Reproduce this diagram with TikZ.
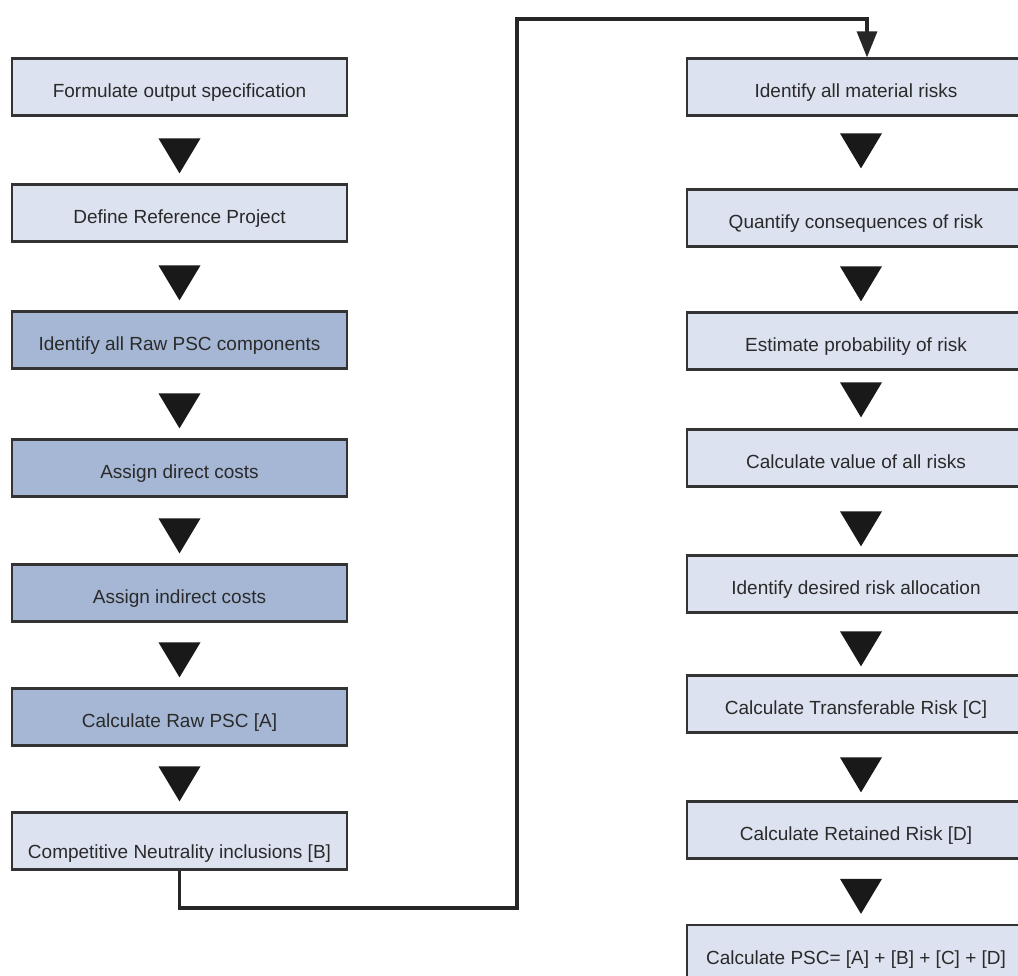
\documentclass[tikz,border=0pt]{standalone}
\usepackage{fontspec}
\setmainfont{Liberation Sans}
\usetikzlibrary{arrows.meta}
\definecolor{pale}{HTML}{DCE2F0}
\definecolor{deep}{HTML}{A5B7D4}
\definecolor{edge}{HTML}{333333}
\definecolor{ink}{HTML}{2A2A2A}

\begin{document}
\begin{tikzpicture}[x=1pt,y=1pt,>={Triangle[width=20pt,length=26pt]},
  stage/.style={draw=edge,line width=2.2pt,minimum width=335pt,minimum height=57pt,inner sep=0pt,
    text height=24pt,text depth=2.4pt,text=ink,font=\fontsize{19}{22}\selectfont},
  lite/.style={stage,fill=pale},
  dark/.style={stage,fill=deep},
  wide/.style={minimum width=338pt},
  drop/.style={fill=black!90},
  link/.style={draw=black!85,line width=3.2pt}]
\useasboundingbox (0,0) rectangle (1018,976);
\clip (0,0) rectangle (1018,976);
\fill[white] (0,0) rectangle (1018,976);
% left column
\node[lite] (spec) at (179.5,889) {Formulate output specification};
\node[lite] (refproj) at (179.5,763) {Define Reference Project};
\node[dark] (rawcomp) at (179.5,636) {Identify all Raw PSC components};
\node[dark] (direct) at (179.5,508) {Assign direct costs};
\node[dark] (indirect) at (179.5,383) {Assign indirect costs};
\node[dark] (rawpsc) at (179.5,259) {Calculate Raw PSC [A]};
\node[lite,text height=38pt] (neutral) at (179.5,135) {Competitive Neutrality inclusions [B]};
% right column
\node[lite,wide] (risks) at (856,889) {Identify all material risks};
\node[lite,wide] (conseq) at (856,758) {Quantify consequences of risk};
\node[lite,wide] (prob) at (856,635) {Estimate probability of risk};
\node[lite,wide] (value) at (856,518) {Calculate value of all risks};
\node[lite,wide] (alloc) at (856,392) {Identify desired risk allocation};
\node[lite,wide] (transfer) at (856,272) {Calculate Transferable Risk [C]};
\node[lite,wide] (retained) at (856,146) {Calculate Retained Risk [D]};
\node[lite,wide] (total) at (856,22.5) {Calculate PSC= [A] + [B] + [C] + [D]};
% triangles between steps
\foreach \b in {refproj,rawcomp,direct,indirect,rawpsc,neutral}
  \fill[drop] ([yshift=10pt]\b.north) -- ++(-21,35) -- ++(42,0) -- cycle;
\foreach \b/\g in {conseq/20,prob/10,value/11,alloc/8,transfer/8,retained/8,total/10}
  \fill[drop] ([xshift=5pt,yshift=\g pt]\b.north) -- ++(-21,35) -- ++(42,0) -- cycle;
% link between the columns
\draw[link,->] (neutral.south) -- ++(0,-37.5) -| (517,957) -| ([xshift=11pt]risks.north);
\end{tikzpicture}
\end{document}
